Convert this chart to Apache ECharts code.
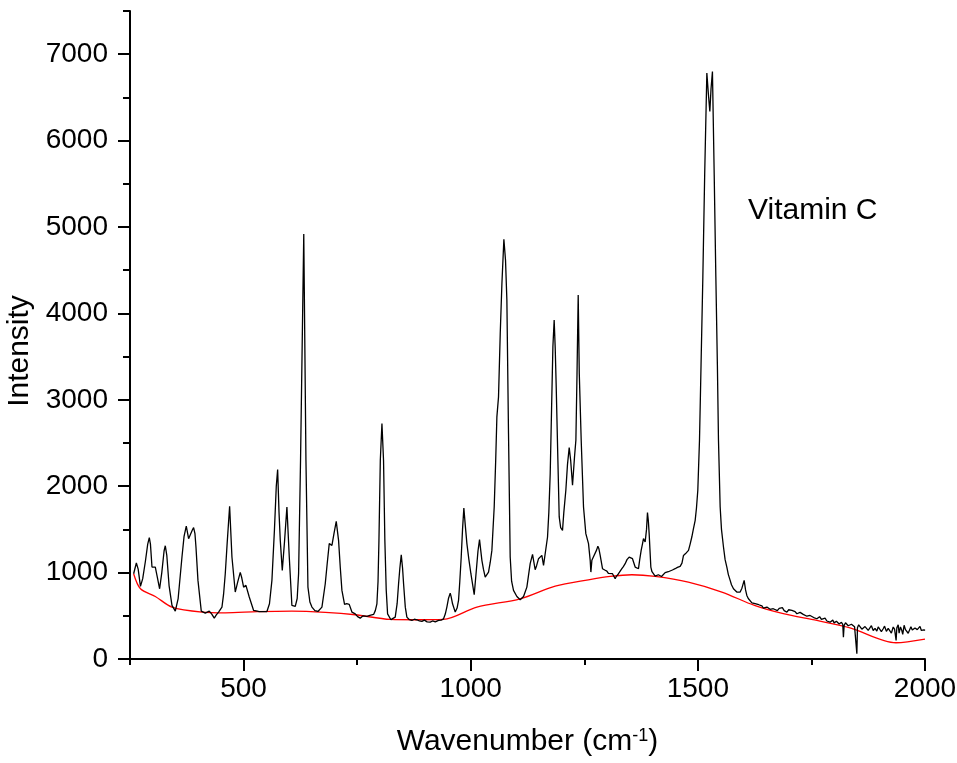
<!DOCTYPE html>
<html>
<head>
<meta charset="utf-8">
<script src="https://cdn.jsdelivr.net/npm/echarts@6/dist/echarts.min.js"></script>
<style>
  html, body { margin: 0; padding: 0; background: #fff; }
  #chart { width: 957px; height: 763px; }
</style>
</head>
<body>
<div id="chart"></div>
<script>
// Raman spectrum (black)
const wavenumber = [
  258, 264, 268, 273, 278, 284, 289, 292.5, 295, 298.4, 302, 305.7, 310, 315.2, 320, 325, 327.7, 331, 336, 342.4,
  349.7, 356, 364.4, 369, 373.9, 379, 383.4, 387, 390, 393, 395.2, 399.6, 406.9, 411, 415.7, 420,
  424.5, 430, 435.5, 440, 445, 452.4, 456, 459.7, 464, 469.3, 474.4, 481.7, 487, 492.7, 496, 500.1,
  505.2, 512.5, 522.1, 533.1, 542, 551.4, 557, 562.4, 568, 572, 575, 578, 580.8, 585.2, 590, 595.4,
  600.6, 606.4, 613.8, 618, 621.1, 625.4, 632.5, 637.3, 641.7, 646, 650.5, 657, 663.7,
  672.5, 679.8, 684, 688.6, 694.5, 699, 704, 709.1, 713, 716.5, 722.3, 727, 732.6, 738.5,
  745.8, 751, 756.8, 763, 771.5, 778, 786.2, 790, 793.5, 796, 798, 801, 804.6, 808.1, 811,
  814, 817, 824.3, 829, 833.8, 838, 841.2, 844, 847.1, 850, 852.2, 856, 859.5, 865, 870.5, 876, 881.5, 887, 892.5,
  898, 904, 910.9, 916, 922, 929.2, 935, 940.2, 944, 947.5, 951, 954.9, 957, 960, 965.9, 970, 973.2, 976, 979.1, 982, 984.9,
  988, 991.6, 996, 1000.4, 1007.7, 1013.6, 1016, 1019.4, 1024.6, 1028, 1031.9, 1035, 1039.2, 1043, 1046.6, 1051.7,
  1055, 1057.6, 1061.2, 1065, 1068.7, 1073, 1076.6, 1079.6, 1083.2, 1086.9, 1090,
  1094.2, 1101.6, 1108.9, 1116.3, 1123.6, 1127, 1130.9, 1136.1, 1141.9, 1145, 1149.3, 1156.6,
  1160.3, 1163.9, 1169.1, 1172, 1175, 1178, 1180.9, 1183.7, 1186, 1188.2, 1191.9, 1194.8, 1198, 1202.1,
  1205, 1209.4, 1213, 1216.8, 1220, 1224.1, 1228.5, 1231.5, 1234, 1236.6, 1239, 1243.2, 1248.3, 1253.4, 1259.3,
  1263, 1264.5, 1266.7, 1270, 1274, 1277, 1279.9, 1282, 1285, 1290.1, 1295, 1299.7, 1303, 1307, 1312.1,
  1318, 1321, 1325.3, 1329, 1332.7, 1336, 1340, 1344, 1348.8, 1352, 1356.1, 1362, 1365, 1369.3, 1372, 1375.2, 1378, 1380.3,
  1384, 1387, 1389.1, 1391, 1392.8, 1396.5, 1399, 1402.3, 1406, 1409.7, 1413, 1417, 1420, 1424.3, 1428, 1431.7, 1435, 1439,
  1444, 1450, 1455, 1461, 1465, 1468.4, 1473, 1479.4, 1483, 1486.7, 1490, 1494.1, 1497, 1499.9, 1503.6, 1507, 1511, 1515, 1519.8,
  1523, 1526.4, 1529, 1532.1, 1536, 1539.6, 1543, 1545.4, 1549.1, 1552, 1556.4, 1560, 1563.8, 1567, 1571.1, 1574, 1578.4, 1582, 1585.7,
  1589, 1593.1, 1597, 1601.9, 1605, 1607.8, 1611, 1615, 1619, 1622, 1626, 1630, 1634, 1637, 1641, 1644, 1648, 1652, 1655, 1659,
  1663, 1666, 1670, 1675, 1679, 1683, 1686, 1690, 1693, 1696, 1700, 1703, 1707, 1710, 1714, 1718, 1721, 1725, 1728,
  1732, 1736, 1740, 1743, 1747, 1751, 1755, 1758, 1762, 1765, 1768, 1772, 1776, 1780, 1784, 1787, 1791, 1794, 1797, 1800,
  1802, 1805, 1808, 1811, 1813, 1816, 1819, 1820.4, 1822, 1825, 1828, 1831, 1835, 1838, 1842, 1845, 1848, 1850, 1851.3, 1854,
  1858, 1861, 1864.5, 1868, 1871, 1875, 1879, 1882, 1886, 1890, 1894, 1897, 1900, 1904, 1908, 1911, 1915, 1919, 1923, 1926,
  1930, 1933, 1936.4, 1938, 1941, 1943, 1946, 1949, 1951, 1954, 1957, 1960, 1963, 1966, 1969, 1972, 1975, 1978, 1980, 1983,
  1986, 1989, 1992, 1995, 1998, 2000
];
const intensity = [
  987, 1111, 1040, 840, 930, 1134, 1330, 1404, 1330, 1064, 1080, 1064, 950, 813, 1000, 1250, 1311, 1200, 850, 620,
  554, 700, 1180, 1420, 1539, 1393, 1404, 1490, 1520, 1450, 1296, 910, 554, 560, 531, 545,
  554, 520, 473, 510, 543, 601, 750, 987, 1350, 1767, 1180, 775, 890, 1002, 940, 832,
  852, 717, 562, 550, 548, 550, 640, 910, 1500, 2000, 2192, 1700, 1373, 1026, 1350, 1760,
  1180, 620, 608, 700, 987, 2300, 4920, 2300, 832, 660, 601, 560, 550,
  601, 871, 1100, 1335, 1315, 1450, 1593, 1373, 1050, 794, 632, 640, 632, 543,
  523, 490, 473, 500, 493, 505, 516, 560, 639, 900, 1373, 2300, 2726, 2300, 1373,
  800, 523, 454, 470, 485, 640, 871, 1050, 1207, 1050, 871, 600, 485, 455, 446, 460, 454, 440, 435,
  450, 430, 427, 440, 430, 446, 450, 465, 520, 601, 700, 763, 720, 639, 543, 590, 678, 900, 1180, 1500, 1748,
  1550, 1335, 1150, 987, 744, 1103, 1250, 1381, 1142, 1040, 948, 960, 1006, 1120, 1257, 1760,
  2300, 2802, 3034, 3769, 4348, 4858, 4618, 4155, 2610, 1180, 900,
  794, 724, 686, 724, 832, 960, 1103, 1211, 1033, 1080, 1161, 1199,
  1084, 1103, 1412, 1700, 2146, 2900, 3614, 3923, 3600, 3150, 2300, 1644, 1520, 1489,
  1700, 1953, 2250, 2447, 2300, 2011, 2339, 2532, 3300, 4213, 3300, 2532, 1760, 1451, 1335,
  1142, 1006, 1142, 1180, 1199, 1260, 1304, 1280, 1199, 1045, 1030, 1018, 990, 968, 987,
  929, 960, 987, 1010, 1045, 1070, 1103, 1150, 1180, 1170, 1161, 1064, 1060, 1045, 1150, 1257, 1330, 1393,
  1354, 1500, 1694, 1600, 1451, 1064, 1010, 987, 960, 948, 975, 987, 955, 968, 1000, 987, 1010, 1006,
  1030, 1045, 1060, 1072, 1110, 1199, 1220, 1257, 1330, 1412, 1500, 1605, 1750, 1953, 2532, 3400, 4425, 5600, 6782,
  6550, 6337, 6600, 6800, 5600, 4425, 3400, 2532, 1760, 1500, 1296, 1150, 1064, 980, 910, 860, 813, 790, 775,
  790, 775, 820, 910, 800, 736, 700, 680, 650, 632, 640, 620, 628, 608, 615, 590, 612, 601, 585, 575,
  598, 582, 570, 560, 585, 578, 595, 560, 572, 543, 570, 556, 562, 540, 548, 524, 546, 540, 518,
  516, 530, 495, 510, 504, 520, 480, 492, 466, 480, 490, 458, 466, 472, 440, 455, 426, 445, 450, 418,
  408, 436, 430, 405, 415, 425, 400, 253, 388, 420, 410, 385, 377, 402, 395, 372, 361, 60, 361, 395,
  380, 345, 338, 375, 370, 332, 350, 385, 330, 355, 322, 372, 360, 318, 350, 380, 320, 355, 338, 300,
  370, 345, 214, 361, 395, 300, 372, 330, 285, 390, 340, 361, 298, 320, 372, 335, 338, 360, 370, 340,
  361, 378, 330, 352, 338, 330
];

// fitted baseline (red)
const baseWavenumber = [258, 273, 305.7, 342.4, 408.5, 459.7, 530, 606.4, 680, 745.8,
  822.8, 881.5, 940.2, 1013.6, 1108.9, 1186, 1259, 1307, 1354.7, 1406,
  1479, 1552.8, 1624.6, 1688, 1762, 1835, 1936, 2000];
const baseIntensity = [987, 813, 724, 601, 543, 535, 548, 554, 540, 512,
  458, 454, 458, 601, 697, 844, 917, 956, 975, 956,
  890, 775, 620, 524, 446, 361, 188, 230];

const xMajor = [500, 1000, 1500, 2000];
const xMinor = [250, 750, 1250, 1750];
const yMajor = [0, 1000, 2000, 3000, 4000, 5000, 6000, 7000];
const yMinor = [500, 1500, 2500, 3500, 4500, 5500, 6500, 7500];

const font = 'Liberation Sans, Arial, sans-serif';
const spectrum = wavenumber.map((w, i) => [w, intensity[i]]);
const baseline = baseWavenumber.map((w, i) => [w, baseIntensity[i]]);

const chart = echarts.init(document.getElementById('chart'));

const axisLine = { show: true, lineStyle: { color: '#000', width: 2 } };
const plain = (v) => String(v);

const option = {
  animation: false,
  backgroundColor: '#fff',
  grid: { left: 130, right: 32, top: 11, bottom: 104, outerBoundsMode: 'none', containLabel: false },
  xAxis: [
    {
      type: 'value',
      min: 250,
      max: 2000,
      name: 'Wavenumber (cm{sup|-1})',
      nameLocation: 'middle',
      nameGap: 68,
      nameTextStyle: {
        color: '#000', fontFamily: font, fontSize: 30,
        rich: { sup: { fontSize: 18, fontFamily: font, color: '#000', verticalAlign: 'top' } }
      },
      axisLine: axisLine,
      axisTick: { show: true, customValues: xMajor, length: 12, lineStyle: { color: '#000', width: 2 } },
      axisLabel: { customValues: xMajor, formatter: plain, color: '#000', fontFamily: font, fontSize: 28, margin: 16 },
      splitLine: { show: false }
    },
    {
      type: 'value',
      min: 250,
      max: 2000,
      position: 'bottom',
      axisLine: { show: false },
      axisTick: { show: true, customValues: xMinor, length: 6, lineStyle: { color: '#000', width: 2 } },
      axisLabel: { show: false },
      splitLine: { show: false }
    }
  ],
  yAxis: [
    {
      type: 'value',
      min: 0,
      max: 7500,
      name: 'Intensity',
      nameLocation: 'middle',
      nameGap: 80,
      nameTextStyle: { color: '#000', fontFamily: font, fontSize: 30, padding: [0, 32, 0, 0] },
      axisLine: axisLine,
      axisTick: { show: true, customValues: yMajor, length: 12, lineStyle: { color: '#000', width: 2 } },
      axisLabel: { customValues: yMajor, formatter: plain, color: '#000', fontFamily: font, fontSize: 28, margin: 22 },
      splitLine: { show: false }
    },
    {
      type: 'value',
      min: 0,
      max: 7500,
      position: 'left',
      axisLine: { show: false },
      axisTick: { show: true, customValues: yMinor, length: 7, lineStyle: { color: '#000', width: 2 } },
      axisLabel: { show: false },
      splitLine: { show: false }
    }
  ],
  graphic: [
    {
      type: 'text',
      left: 748,
      top: 196,
      style: { text: 'Vitamin C', fill: '#000', font: '30px ' + font }
    }
  ],
  series: [
    {
      name: 'Baseline',
      type: 'line',
      data: baseline,
      showSymbol: false,
      smooth: 0.3,
      lineStyle: { color: '#ff0000', width: 1.3 },
      z: 2
    },
    {
      name: 'Vitamin C',
      type: 'line',
      data: spectrum,
      showSymbol: false,
      lineStyle: { color: '#000', width: 1.3 },
      z: 3
    }
  ]
};

chart.setOption(option);
</script>
</body>
</html>
